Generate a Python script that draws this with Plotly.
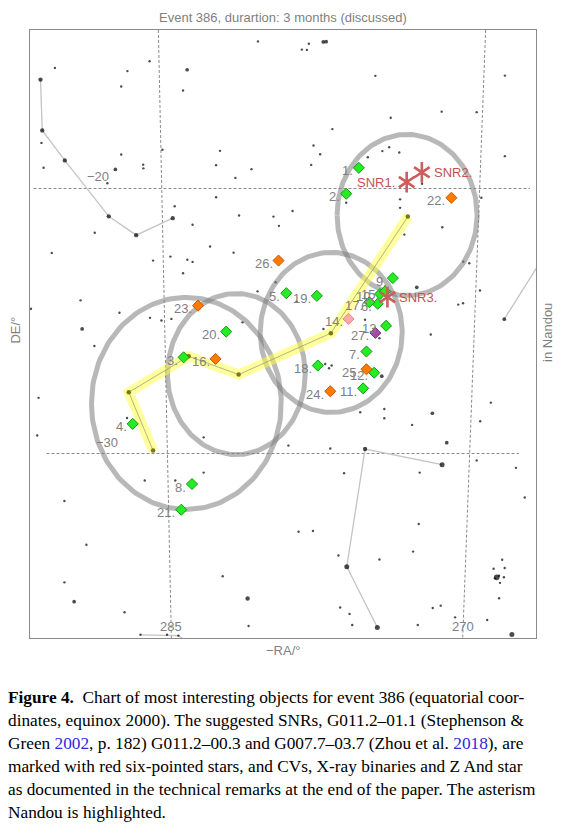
import numpy as np
import plotly.graph_objects as go

# ---------------- data (RA / DE in degrees, chart coordinates) ----------------
star_ra = [280.55, 290.99, 286.12, 287.26, 284.19, 287.58, 284.40, 291.68, 291.57, 287.58,
           286.45, 286.44, 287.88, 285.46, 282.50, 282.70, 281.71, 280.88, 288.29, 284.83,
           288.94, 283.91, 282.70, 281.52, 279.75, 279.47, 283.01, 281.80, 291.15, 285.94,
           285.05, 284.18, 283.91, 284.40, 279.64, 280.57, 289.67, 292.22, 287.67, 286.10,
           285.51, 285.00, 281.34, 289.59, 278.29, 278.03, 277.93, 277.19, 277.04, 276.72,
           277.69, 277.35, 277.81, 278.77, 276.01, 274.51, 267.85, 271.10, 269.30, 273.72,
           274.90, 274.15, 273.80, 273.28, 267.85, 272.11, 273.24, 273.24, 269.06, 271.07,
           273.02, 269.99, 269.68, 272.38, 269.13, 270.25, 270.00, 278.56, 275.04, 277.18,
           274.30, 277.09, 276.76, 276.89, 274.18, 274.05, 271.66, 268.57, 269.12, 271.58,
           275.29, 274.05, 272.62, 270.84, 278.98, 276.83, 269.30, 267.28, 276.12, 272.23,
           266.83, 278.46, 277.72, 272.28, 276.41, 274.30, 272.57, 267.99, 268.43, 267.86,
           268.15, 267.90, 268.10, 268.36, 268.15, 276.32, 275.84, 275.70, 272.33, 271.56,
           271.15, 270.41, 268.76, 288.96, 291.83, 291.90, 287.28, 283.34, 286.37, 284.80,
           283.34, 290.50, 289.37, 290.50, 290.00, 287.41, 282.36, 281.03, 286.59, 285.22,
           284.64,
           291.73, 291.64, 290.48, 288.22, 286.81, 284.93, 275.04, 271.08, 275.98, 274.41,
           268.27, 267.49, 281.08, 267.88]
star_de = [-14.45, -15.45, -15.20, -15.57, -15.52, -16.15, -16.30, -18.28, -19.22, -18.72,
           -19.10, -19.24, -19.28, -18.54, -18.58, -19.12, -19.60, -19.27, -19.80, -20.67,
           -21.67, -21.37, -20.33, -21.02, -21.06, -21.41, -22.19, -22.42, -22.43, -22.72,
           -22.57, -22.69, -22.77, -23.20, -23.54, -23.88, -24.22, -24.54, -24.69, -24.88,
           -24.98, -24.92, -25.05, -25.30, -14.76, -14.77, -14.54, -14.47, -14.46, -17.76,
           -18.38, -18.71, -19.11, -20.85, -20.54, -15.75, -15.74, -17.10, -17.12, -17.33,
           -18.82, -18.59, -18.44, -18.64, -18.78, -19.82, -20.41, -20.73, -20.35, -21.46,
           -21.74, -22.76, -22.82, -23.73, -23.85, -24.38, -24.33, -24.27, -24.95, -25.30,
           -25.65, -26.62, -26.68, -26.78, -27.08, -28.32, -25.51, -28.08, -28.78, -28.48,
           -28.44, -28.67, -28.92, -29.59, -29.70, -29.81, -30.26, -30.54, -30.74, -30.72,
           -31.66, -32.95, -32.92, -32.66, -33.85, -34.00, -33.70, -34.01, -34.35, -34.32,
           -34.61, -34.67, -34.88, -34.71, -35.46, -35.81, -36.05, -36.47, -36.47, -35.83,
           -35.74, -36.18, -36.28, -25.94, -27.90, -29.32, -28.66, -29.39, -31.02, -31.02,
           -30.72, -31.79, -33.44, -34.86, -35.59, -35.99, -34.63, -36.51, -36.84, -36.84,
           -36.87,
           -15.89, -17.81, -18.94, -21.05, -21.76, -21.12, -29.83, -30.42, -34.27, -36.56,
           -34.67, -36.83, -35.47, -24.93]
star_mag = [6, 6, 6, 6, 5, 6, 6, 6, 6, 6,
            6, 6, 5, 6, 6, 6, 6, 6, 6, 6,
            6, 6, 6, 6, 6, 6, 6, 6, 6, 6,
            6, 6, 6, 6, 6, 6, 6, 6, 6, 6,
            6, 6, 6, 5, 6, 6, 6, 5, 5, 6,
            6, 6, 6, 6, 6, 6, 6, 6, 6, 6,
            6, 6, 6, 6, 6, 6, 6, 6, 6, 6,
            6, 6, 6, 5, 6, 6, 6, 6, 6, 6,
            6, 6, 6, 6, 5, 6, 6, 6, 6, 5,
            6, 6, 6, 5, 6, 6, 6, 6, 6, 6,
            6, 6, 6, 6, 6, 6, 6, 6, 6, 6,
            6, 6, 6, 6, 6, 6, 6, 6, 6, 6,
            6, 6, 6, 6, 6, 6, 6, 6, 6, 6,
            6, 6, 6, 6, 5, 6, 6, 6, 6, 6,
            6,
            4.5, 4.5, 4.5, 4.5, 4.5, 4.5, 4.5, 4, 4, 4,
            3.5, 4, 4.5, 5]

# constellation lines
const_a_ra = [291.73, 291.64, 290.48, 288.22, 286.81, 284.93]
const_a_de = [-15.89, -17.81, -18.94, -21.05, -21.76, -21.12]
const_b_ra = [271.08, 275.04, 275.98, 274.41]
const_b_de = [-30.42, -29.83, -34.27, -36.56]
const_c_ra = [267.88, 265.79]
const_c_de = [-24.93, -22.49]
const_d_ra = [286.59, 284.64, 284.28]
const_d_de = [-36.84, -36.87, -37.06]

# asterism Nandou
nandou_ra = [285.94, 287.19, 284.11, 281.54, 276.80, 272.84]
nandou_de = [-29.89, -27.69, -26.33, -27.02, -25.46, -21.06]

# search areas (ellipses)
area_ra = [272.88, 276.78, 281.66, 284.23]
area_de = [-21.00, -25.43, -27.00, -28.11]
area_rx = [3.60, 3.65, 3.54, 4.88]
area_ry = [3.04, 3.02, 3.04, 4.00]

# numbered objects
obj_num = list(range(1, 28))
obj_ra = [275.36, 276.01, 284.37, 286.99, 279.09, 274.39, 274.97, 283.94, 273.61, 274.27,
          275.14, 274.57, 273.96, 275.89, 274.01, 282.73, 274.82, 277.47, 277.52, 282.18,
          284.49, 270.60, 283.63, 276.83, 274.97, 279.49, 274.51]
obj_de = [-19.22, -20.20, -26.37, -28.88, -23.95, -24.35, -26.15, -31.15, -23.38, -23.98,
          -27.54, -26.95, -25.18, -24.92, -23.88, -26.43, -24.29, -26.68, -24.05, -25.40,
          -32.12, -20.35, -24.42, -27.65, -26.82, -22.72, -25.45]
obj_type = ["g", "g", "g", "g", "g", "g", "g", "g", "g", "g",
            "g", "g", "g", "p", "g", "o", "g", "g", "g", "g",
            "g", "o", "o", "o", "o", "o", "m"]

# supernova remnants
snr_name = ["SNR1.", "SNR2.", "SNR3."]
snr_ra = [272.90, 272.12, 273.89]
snr_de = [-19.76, -19.39, -24.10]

# grid (projected lines)
grid_ra_lbl = ["285", "270"]
grid_ra_top = [285.67, 268.84]
grid_ra_bot = [285.00, 270.02]
grid_de_lbl = ["\u221220", "\u221230"]
grid_de = [-20.0, -30.0]
grid_de_from = [292.09, 291.42]
grid_de_to = [266.56, 267.13]
grid_de_lbl_ra = [288.75, 288.29]

X_RANGE = [292.27, 266.25]
Y_RANGE = [-36.96, -14.02]

GRAY = "#7f7f7f"
SANS = "Liberation Sans, Arial, sans-serif"
SNR_RED = "#cd5c5c"

fig = go.Figure()

# grid lines
for t, b in zip(grid_ra_top, grid_ra_bot):
    fig.add_trace(go.Scatter(x=[t, b], y=[Y_RANGE[1], Y_RANGE[0]], mode="lines",
                             line=dict(color="#8a8a8a", width=1, dash="3px,2px"),
                             hoverinfo="skip", showlegend=False))
for d, a, b in zip(grid_de, grid_de_from, grid_de_to):
    fig.add_trace(go.Scatter(x=[a, b], y=[d, d], mode="lines",
                             line=dict(color="#8a8a8a", width=1, dash="3px,2px"),
                             hoverinfo="skip", showlegend=False))

# constellation lines
for cx, cy in [(const_a_ra, const_a_de), (const_b_ra, const_b_de),
               (const_c_ra, const_c_de), (const_d_ra, const_d_de)]:
    fig.add_trace(go.Scatter(x=cx, y=cy, mode="lines",
                             line=dict(color="#c4c4c4", width=1.3),
                             hoverinfo="skip", showlegend=False))

# background stars
sizes = [2.4 + (6 - m) * 1.3 for m in star_mag]
fig.add_trace(go.Scatter(x=star_ra, y=star_de, mode="markers",
                         marker=dict(color="black", size=sizes, line=dict(width=0)),
                         hoverinfo="skip", showlegend=False))

# ellipses
t = np.linspace(0, 2 * np.pi, 181)
for cx, cy, rx, ry in zip(area_ra, area_de, area_rx, area_ry):
    fig.add_trace(go.Scatter(x=cx + rx * np.cos(t), y=cy + ry * np.sin(t), mode="lines",
                             line=dict(color="rgba(125,125,125,0.55)", width=5),
                             hoverinfo="skip", showlegend=False))

# Nandou asterism
fig.add_trace(go.Scatter(x=nandou_ra, y=nandou_de, mode="lines",
                         line=dict(color="rgba(255,255,60,0.5)", width=10),
                         hoverinfo="skip", showlegend=False))
fig.add_trace(go.Scatter(x=nandou_ra, y=nandou_de, mode="lines+markers",
                         line=dict(color="rgba(150,150,110,0.7)", width=1),
                         marker=dict(color="#7a7a10", size=4.5),
                         hoverinfo="skip", showlegend=False))

# numbered objects
styles = {"g": ("#22ee22", "#119911"), "o": ("#ff7a00", "#cc5500"),
          "p": ("#ffaaaa", "#e08888"), "m": ("#aa44aa", "#773377")}
for key, (fc, lc) in styles.items():
    idx = [i for i, k in enumerate(obj_type) if k == key]
    fig.add_trace(go.Scatter(x=[obj_ra[i] for i in idx], y=[obj_de[i] for i in idx],
                             mode="markers",
                             marker=dict(symbol="diamond", size=8.5, color=fc,
                                         line=dict(color=lc, width=1)),
                             hoverinfo="skip", showlegend=False))

# SNR six-pointed stars
for sym in ["y-up-open", "y-down-open"]:
    fig.add_trace(go.Scatter(x=snr_ra, y=snr_de, mode="markers",
                             marker=dict(symbol=sym, size=13, color=SNR_RED,
                                         line=dict(color=SNR_RED, width=2.6)),
                             hoverinfo="skip", showlegend=False))

ann = []
for n, x, y in zip(obj_num, obj_ra, obj_de):
    ann.append(dict(x=x, y=y, xref="x", yref="y", text=f"{n}.", showarrow=False,
                    xanchor="right", yanchor="middle", xshift=-4, yshift=-3,
                    font=dict(family=SANS, size=13, color=GRAY)))
snr_side = ["left", "right", "right"]
for name, x, y, side in zip(snr_name, snr_ra, snr_de, snr_side):
    ann.append(dict(x=x, y=y, xref="x", yref="y", text=name, showarrow=False,
                    xanchor="right" if side == "left" else "left", yanchor="middle",
                    xshift=-10 if side == "left" else 10, yshift=0,
                    font=dict(family=SANS, size=13, color="#c85050")))

# grid labels
for lbl, b in zip(grid_ra_lbl, grid_ra_bot):
    ann.append(dict(x=b, y=Y_RANGE[0], xref="x", yref="y", text=lbl, showarrow=False,
                    xanchor="center", yanchor="bottom", yshift=2,
                    font=dict(family=SANS, size=13, color=GRAY)))
for lbl, d, a in zip(grid_de_lbl, grid_de, grid_de_lbl_ra):
    ann.append(dict(x=a, y=d, xref="x", yref="y", text=lbl, showarrow=False,
                    xanchor="center", yanchor="bottom", yshift=2,
                    font=dict(family=SANS, size=13, color=GRAY)))

# titles
ann.append(dict(x=0.5, y=1.021, xref="paper", yref="paper", showarrow=False,
                text="Event 386, durartion: 3 months (discussed)", xanchor="center",
                yanchor="middle", font=dict(family=SANS, size=13, color=GRAY)))
ann.append(dict(x=0.5, y=-0.021, xref="paper", yref="paper", showarrow=False,
                text="\u2212RA/\u00b0", xanchor="center", yanchor="middle",
                font=dict(family=SANS, size=13, color=GRAY)))
ann.append(dict(x=-0.028, y=0.507, xref="paper", yref="paper", showarrow=False,
                text="DE/\u00b0", textangle=-90, xanchor="center", yanchor="middle",
                font=dict(family=SANS, size=13, color=GRAY)))
ann.append(dict(x=1.024, y=0.502, xref="paper", yref="paper", showarrow=False,
                text="in Nandou", textangle=-90, xanchor="center", yanchor="middle",
                font=dict(family=SANS, size=13, color=GRAY)))

# caption
BLUE = "#2a2ae0"
caption = [
    "<b>Figure 4.</b>  Chart of most interesting objects for event 386 (equatorial coor-",
    "dinates, equinox 2000). The suggested SNRs, G011.2\u201301.1 (Stephenson &",
    f"Green <span style='color:{BLUE}'>2002</span>, p. 182) G011.2\u201300.3 and G007.7\u201303.7 (Zhou et al. <span style='color:{BLUE}'>2018</span>), are",
    "marked with red six-pointed stars, and CVs, X-ray binaries and Z And star",
    "as documented in the technical remarks at the end of the paper. The asterism",
    "Nandou is highlighted.",
]
cap_y = [697, 720, 743, 766, 789, 812]
for line, ypx in zip(caption, cap_y):
    ann.append(dict(x=(6 - 30) / 506, y=(638 - ypx) / 608, xref="paper", yref="paper",
                    text=line, showarrow=False, xanchor="left", yanchor="middle",
                    font=dict(family="Liberation Serif, Times New Roman, serif", size=17.3,
                              color="black")))

# page body has an 8px margin, so the figure is sized/offset to keep the plot area in place
fig.update_layout(
    width=565, height=823, autosize=False,
    margin=dict(l=22, r=37, t=22, b=193, pad=0),
    paper_bgcolor="white", plot_bgcolor="white",
    annotations=ann,
    xaxis=dict(range=X_RANGE, showgrid=False, zeroline=False, showticklabels=False,
               ticks="", showline=True, mirror=True, linecolor="#8a8a8a", linewidth=1.3),
    yaxis=dict(range=Y_RANGE, showgrid=False, zeroline=False, showticklabels=False,
               ticks="", showline=True, mirror=True, linecolor="#8a8a8a", linewidth=1.3),
)

fig.write_html("out.html")
